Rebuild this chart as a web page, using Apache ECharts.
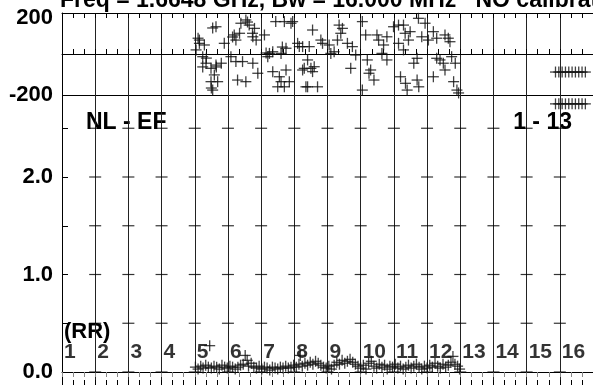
<!DOCTYPE html>
<html>
<head>
<meta charset="utf-8">
<script src="https://cdn.jsdelivr.net/npm/echarts@6/dist/echarts.min.js"></script>
<style>
  html, body { margin: 0; padding: 0; background: #fff; }
  #box { width: 593px; height: 385px; }
</style>
</head>
<body>
<div id="box"></div>
<script>
var myChart = echarts.init(document.getElementById('box'));

// phase samples (top panel), x in plot units, phase in degrees
var phaseT = [4.04, 4.10, 4.14, 4.14, 4.24, 4.24, 4.29, 4.34, 4.35, 4.49, 4.49, 4.50, 4.54, 4.54, 4.59, 4.64, 4.64, 4.65, 4.69, 4.80,
    4.89, 5.09, 5.14, 5.19, 5.24, 5.24, 5.29, 5.35, 5.39, 5.44, 5.54, 5.54, 5.59, 5.64, 5.74, 5.75, 5.75, 5.80, 5.85, 5.90,
    6.10, 6.15, 6.20, 6.25, 6.35, 6.35, 6.44, 6.50, 6.55, 6.60, 6.60, 6.64, 6.70, 6.70, 6.75, 6.75, 6.85, 6.90, 6.95, 7.10,
    7.15, 7.25, 7.25, 7.30, 7.35, 7.40, 7.40, 7.45, 7.50, 7.55, 7.55, 7.60, 7.70, 7.80, 7.85, 8.05, 8.10, 8.20, 8.30, 8.35,
    8.40, 8.45, 8.60, 8.70, 8.75, 8.85, 9.05, 9.05, 9.15, 9.20, 9.25, 9.30, 9.40, 9.49, 9.54, 9.64, 9.69, 9.79, 9.79, 9.99,
    10.14, 10.14, 10.20, 10.29, 10.29, 10.34, 10.35, 10.40, 10.44, 10.49, 10.60, 10.70, 10.70, 10.74, 10.75, 10.84, 10.94, 11.04, 11.19, 11.19,
    11.29, 11.29, 11.39, 11.49, 11.54, 11.54, 11.64, 11.69, 11.74, 11.80, 11.85, 11.90, 11.95];
var phaseV = [20, 77, 52, 68, -13, -63, 44, -45, -20, -70, -135, -166, -176, 127, -102, 133, -54, -63, -135, -45,
    52, -13, 83, 93, 68, -37, -127, 101, 150, -37, 166, -135, 156, 141, 101, 84, -45, 125, 68, -94,
    93, 5, -13, 3, 11, -86, 158, -160, -111, 3, -135, 34, 158, -160, 28, -78, -135, 150, 158, 52,
    36, 36, -78, -70, -160, -29, -160, 36, -70, 117, -86, -62, -160, 68, 52, 44, 3, 11, 68, 141,
    101, 125, 52, -70, 36, -5, 158, -176, 93, -29, -94, -78, -127, 93, 68, 3, 44, 84, -29, 133,
    141, 52, -111, 141, 20, 101, -143, -176, 68, 109, -45, -21, -127, 174, -160, 84, 150, 68, 109, -111,
    77, -21, -29, -45, 93, -78, 77, 60, -13, -135, -45, -176, -190];

// amplitude samples (bottom panel)
var ampT = [4.02, 4.10, 4.18, 4.25, 4.33, 4.41, 4.45, 4.50, 4.58, 4.66, 4.74, 4.82, 4.90, 4.98, 5.06, 5.14, 5.22, 5.30, 5.38, 5.46,
    5.52, 5.58, 5.62, 5.70, 5.78, 5.86, 5.94, 6.02, 6.10, 6.18, 6.26, 6.34, 6.42, 6.50, 6.58, 6.66, 6.74, 6.82, 6.90, 6.98,
    7.06, 7.14, 7.18, 7.24, 7.32, 7.40, 7.48, 7.56, 7.64, 7.72, 7.80, 7.88, 7.96, 8.04, 8.12, 8.20, 8.28, 8.36, 8.44, 8.52,
    8.60, 8.68, 8.76, 8.84, 8.92, 9.00, 9.08, 9.16, 9.24, 9.32, 9.40, 9.48, 9.56, 9.64, 9.72, 9.80, 9.88, 9.96, 10.04, 10.12,
    10.20, 10.28, 10.36, 10.44, 10.52, 10.60, 10.68, 10.76, 10.84, 10.92, 11.00, 11.08, 11.16, 11.24, 11.32, 11.40, 11.48, 11.56, 11.64, 11.72,
    11.78, 11.84, 11.92, 11.98];
var ampV = [0.05, 0.03, 0.06, 0.04, 0.07, 0.05, 0.27, 0.04, 0.06, 0.05, 0.03, 0.07, 0.05, 0.04, 0.06, 0.05, 0.03, 0.05, 0.07, 0.08,
    0.17, 0.12, 0.06, 0.09, 0.05, 0.04, 0.06, 0.03, 0.05, 0.04, 0.02, 0.05, 0.04, 0.03, 0.05, 0.04, 0.06, 0.04, 0.05, 0.07,
    0.05, 0.08, 0.17, 0.06, 0.09, 0.07, 0.10, 0.08, 0.11, 0.09, 0.07, 0.05, 0.04, 0.06, 0.03, 0.07, 0.10, 0.08, 0.12, 0.09,
    0.11, 0.13, 0.10, 0.08, 0.06, 0.04, 0.07, 0.03, 0.09, 0.11, 0.06, 0.04, 0.08, 0.05, 0.07, 0.03, 0.06, 0.05, 0.08, 0.04,
    0.06, 0.03, 0.05, 0.07, 0.04, 0.06, 0.08, 0.05, 0.03, 0.06, 0.04, 0.07, 0.05, 0.09, 0.06, 0.04, 0.08, 0.05, 0.07, 0.10,
    0.16, 0.08, 0.06, 0.03];

// the short runs at the right edge
var edgeT = [14.87, 14.97, 15.07, 15.17, 15.27, 15.37, 15.47, 15.57, 15.67, 15.77];
var edgePhase = [-88, -88, -88, -88, -88, -88, -88, -88, -88, -88];
var edgeAmp = [2.75, 2.75, 2.75, 2.75, 2.75, 2.75, 2.75, 2.75, 2.75, 2.75];

var antennas = ['1', '2', '3', '4', '5', '6', '7', '8', '9', '10', '11', '12', '13', '14', '15', '16'];
var xTicks = [1, 2, 3, 4, 5, 6, 7, 8, 9, 10, 11, 12, 13, 14, 15];
var ampTicks = [0, 0.5, 1, 1.5, 2, 2.5];
var ampLabels = [0, 1, 2];

var font = 'Liberation Sans, Arial, sans-serif';
var ink = '#111';

function pairs(xs, ys) {
    var out = [];
    for (var i = 0; i < xs.length; i++) out.push([xs[i], ys[i]]);
    return out;
}

var phaseData = pairs(phaseT, phaseV).concat(pairs(edgeT, edgePhase));
var ampData = pairs(ampT, ampV).concat(pairs(edgeT, edgeAmp));

// little horizontal marks where the amplitude ticks meet the vertical lines
var markData = [];
xTicks.forEach(function (x) {
    ampTicks.forEach(function (y) { markData.push([x, y]); });
});

var antData = antennas.map(function (a, i) {
    return {name: a, value: [i, 0.2]};
});

function crossSeries(data, xi, yi) {
    return [{
        type: 'scatter', xAxisIndex: xi, yAxisIndex: yi, data: data,
        symbol: 'rect', symbolSize: [11, 1.3], itemStyle: {color: ink}, silent: true, z: 5
    }, {
        type: 'scatter', xAxisIndex: xi, yAxisIndex: yi, data: data,
        symbol: 'rect', symbolSize: [1.3, 11], itemStyle: {color: ink}, silent: true, z: 5
    }];
}

function xAx(grid, pos, split, tickColor) {
    return {
        gridIndex: grid, type: 'value', min: 0, max: 16, interval: 1, position: pos,
        axisLine: {show: true, lineStyle: {color: '#000', width: 1}},
        axisTick: {show: true, inside: true, length: 5, lineStyle: {color: tickColor}},
        minorTick: {show: true, splitNumber: 3, length: 5, lineStyle: {color: tickColor}},
        axisLabel: {show: false},
        splitLine: {show: split, lineStyle: {color: '#222', width: 1}}
    };
}

var option = {
    animation: false,
    backgroundColor: '#fff',
    title: {
        text: 'Freq = 1.6648 GHz, Bw = 16.000 MHz   NO calibration',
        left: 60,
        top: -11,
        padding: 0,
        textStyle: {fontFamily: font, fontSize: 23, fontWeight: 'bold', color: '#000'}
    },
    grid: [
        {left: 62, top: 13, width: 533, height: 82},
        {left: 62, top: 95, width: 533, height: 290}
    ],
    xAxis: [
        xAx(0, 'bottom', true, '#000'),
        xAx(0, 'top', false, '#000'),
        xAx(1, 'top', true, '#888'),
        xAx(1, 'bottom', false, '#000')
    ],
    yAxis: [{
        gridIndex: 0, type: 'value', min: -200, max: 200, interval: 200,
        axisLine: {show: true, lineStyle: {color: '#000'}},
        axisTick: {show: false},
        axisLabel: {
            margin: 9, fontFamily: font, fontSize: 22, fontWeight: 'bold', color: '#000',
            formatter: function (v) {
                if (v === 0) return '';
                if (v === 200) return '{hi|200}';
                return String(v);
            },
            rich: {hi: {fontFamily: font, fontSize: 22, fontWeight: 'bold', color: '#000', padding: [10, 0, 0, 0]}}
        },
        splitLine: {show: true, lineStyle: {color: '#000', width: 1}}
    }, {
        gridIndex: 1, type: 'value', min: -0.1333, max: 2.841,
        axisLine: {show: true, lineStyle: {color: '#000'}},
        axisTick: {show: true, inside: true, length: 6, customValues: ampTicks, lineStyle: {color: '#000'}},
        axisLabel: {
            margin: 9, fontFamily: font, fontSize: 22, fontWeight: 'bold', color: '#000',
            customValues: ampLabels,
            formatter: function (v) { return v.toFixed(1); }
        },
        splitLine: {show: false}
    }],
    graphic: [{
        type: 'text', left: 86, top: 111,
        style: {text: 'NL - EF', font: 'bold 23px ' + font, fill: '#000'}
    }, {
        type: 'text', right: 21, top: 111,
        style: {text: '1 - 13', font: 'bold 23px ' + font, fill: '#000'}
    }, {
        type: 'text', left: 64, top: 321,
        style: {text: '(RR)', font: 'bold 22px ' + font, fill: '#000'}
    }],
    series: [].concat(
        crossSeries(phaseData, 0, 0),
        crossSeries(ampData, 2, 1),
        [{
            type: 'scatter', xAxisIndex: 2, yAxisIndex: 1, data: markData,
            symbol: 'rect', symbolSize: [12, 1.2], itemStyle: {color: '#000'}, silent: true, z: 3
        }, {
            type: 'scatter', xAxisIndex: 2, yAxisIndex: 1, data: antData,
            symbolSize: 0, silent: true, z: 4,
            label: {
                show: true, position: 'right', distance: 2, formatter: '{b}',
                fontFamily: font, fontSize: 21, fontWeight: 'bold', color: '#000'
            }
        }]
    )
};

myChart.setOption(option);
</script>
</body>
</html>
